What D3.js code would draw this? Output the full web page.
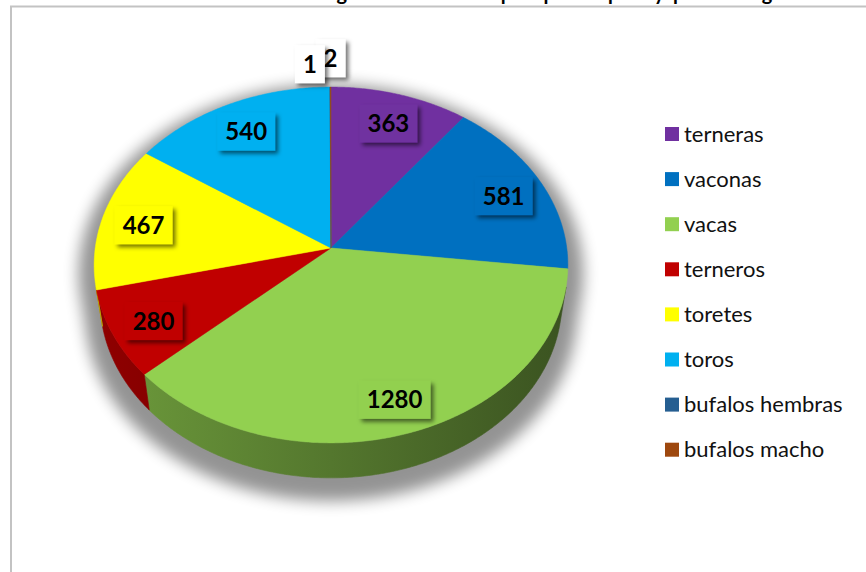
<!DOCTYPE html>
<html>
<head>
<meta charset="utf-8">
<script src="https://cdn.jsdelivr.net/npm/d3@7"></script>
<style>
  body { margin: 0; background: #ffffff; }
  svg { display: block; }
</style>
</head>
<body>
<svg id="chart" width="866" height="572"></svg>
<script>
// ---- data ----
const categories = ["terneras", "vaconas", "vacas", "terneros", "toretes", "toros", "bufalos hembras", "bufalos macho"];
const values = [363, 581, 1280, 280, 467, 540, 1, 2];
const colors = ["#7030a0", "#0070c0", "#92d050", "#c00000", "#ffff00", "#00b0f0", "#255e91", "#9e480e"];
const titleText = "Gráfico 1. Población de ganado bovino por parroquia y por categoría";

const W = 866, H = 572;
const svg = d3.select("#chart");
const defs = svg.append("defs");
const font = "Lato, 'Open Sans', sans-serif";

// ---- frame + title (title sits above the frame top) ----
svg.append("path")
  .attr("d", `M11,${H} V6.5 H${W}`)
  .attr("fill", "none").attr("stroke", "#c3c3c3").attr("stroke-width", 2);

svg.append("text")
  .attr("x", 447).attr("y", -0.5)
  .attr("text-anchor", "middle")
  .attr("font-family", font).attr("font-weight", 700).attr("font-size", 20)
  .attr("textLength", 735).attr("lengthAdjust", "spacing")
  .attr("fill", "#000")
  .text(titleText);

// ---- perspective view of a tilted disc ----
const cx = 331, cy = 248;          // screen position of the disc centre
const focal = 1641, dist = 6.96;   // camera focal length (px) and distance (radii)
const tilt = Math.asin(0.664);
const cosT = Math.cos(tilt), sinT = Math.sin(tilt);
const depth = 0.24;                // disc thickness in radii

function project(theta, k, z) {
  const x = k * Math.sin(theta), y = -k * Math.cos(theta);
  const Yc = y * cosT - z * sinT;
  const Zc = dist - y * sinT - z * cosT;
  return [cx + focal * x / Zc, cy + focal * Yc / Zc];
}
function arcPoints(a0, a1, k, z) {
  const n = Math.max(2, Math.ceil(Math.abs(a1 - a0) / (Math.PI / 360)));
  return d3.range(n + 1).map(i => project(a0 + (a1 - a0) * i / n, k, z));
}
const line = d3.line();

const pie = d3.pie().sort(null).value(d => d.value).startAngle(0).endAngle(2 * Math.PI);
const slices = pie(categories.map((c, i) => ({ name: c, value: values[i], color: colors[i] })));
const total = d3.sum(values);

// range of the outer wall that faces the camera
const wLim = Math.acos(-1 / (dist * sinT));
const wMin = wLim, wMax = 2 * Math.PI - wLim;

// ---- soft shadow under the pie ----
const blur = defs.append("filter").attr("id", "pieShadow")
  .attr("x", "-20%").attr("y", "-20%").attr("width", "140%").attr("height", "140%");
blur.append("feGaussianBlur").attr("stdDeviation", 7);

const topOutline = arcPoints(0, 2 * Math.PI, 1, 0);
const botOutline = arcPoints(0, 2 * Math.PI, 1, -depth);
const frontWall = arcPoints(wMin, wMax, 1, 0).concat(arcPoints(wMax, wMin, 1, -depth));
const shadowG = svg.append("g")
  .attr("filter", "url(#pieShadow)")
  .attr("transform", `translate(${cx},${cy + 42}) scale(1.065) translate(${-cx},${-(cy + 32)})`)
  .attr("opacity", 0.42);
[topOutline, botOutline, frontWall].forEach(p =>
  shadowG.append("path").attr("d", line(p) + "Z").attr("fill", "#000"));

// ---- side walls ----
const wallG = svg.append("g");
slices.forEach((s, i) => {
  const lo = Math.max(s.startAngle, wMin), hi = Math.min(s.endAngle, wMax);
  if (hi <= lo) return;
  const base = d3.color(s.data.color);
  const g = defs.append("linearGradient").attr("id", "side" + i)
    .attr("gradientUnits", "userSpaceOnUse")
    .attr("x1", cx - 240).attr("x2", cx + 240).attr("y1", 0).attr("y2", 0);
  g.append("stop").attr("offset", 0).attr("stop-color", base.darker(0.8).formatHex());
  g.append("stop").attr("offset", 1).attr("stop-color", base.darker(2.6).formatHex());
  const pts = arcPoints(lo, hi, 1, 0).concat(arcPoints(hi, lo, 1, -depth));
  wallG.append("path").attr("d", line(pts) + "Z")
    .attr("fill", `url(#side${i})`)
    .attr("stroke", `url(#side${i})`).attr("stroke-width", 0.6);
});

// ---- top face ----
const topG = svg.append("g");
slices.forEach(s => {
  const pts = [project(0, 0, 0)].concat(arcPoints(s.startAngle, s.endAngle, 1, 0));
  topG.append("path").attr("d", line(pts) + "Z")
    .attr("fill", s.data.color)
    .attr("stroke", s.data.color).attr("stroke-width", 0.5).attr("stroke-linejoin", "round");
});

// ---- data labels ----
const drop = defs.append("filter").attr("id", "labelShadow")
  .attr("x", "-30%").attr("y", "-30%").attr("width", "170%").attr("height", "170%");
drop.append("feDropShadow").attr("dx", 3).attr("dy", 3).attr("stdDeviation", 2.2)
  .attr("flood-color", "#000").attr("flood-opacity", 0.55);

const inside = slices.filter(s => s.value / total >= 0.02);
const outside = slices.filter(s => s.value / total < 0.02);

function placeLabel(s, pos, fill) {
  const g = svg.append("g").attr("transform", `translate(${pos[0]},${pos[1]})`);
  const rect = g.append("rect").attr("fill", fill).attr("filter", "url(#labelShadow)");
  const t = g.append("text")
    .attr("text-anchor", "middle").attr("dy", "0.36em")
    .attr("font-family", font).attr("font-weight", 700).attr("font-size", 24)
    .attr("fill", "#000").text(s.value);
  const w = t.node().getBBox().width + 16, h = 38;
  rect.attr("x", -w / 2).attr("y", -h / 2).attr("width", w).attr("height", h);
}

inside.forEach(s => {
  const p = project((s.startAngle + s.endAngle) / 2, 0.82, 0);
  placeLabel(s, [p[0], p[1] + 3], s.data.color);
});

// small slices: labels outside the rim, fanned so they do not cover each other
const nOut = outside.length;
outside.slice().reverse().forEach((s, r) => {
  const j = nOut - 1 - r;
  const p = project((s.startAngle + s.endAngle) / 2, 1.2, 0);
  const off = j - (nOut - 1);
  placeLabel(s, [p[0] + off * 20, p[1] - off * 6], "#ffffff");
});

// ---- legend ----
const legend = svg.append("g");
categories.forEach((c, i) => {
  const y = 134 + i * 45.1;
  legend.append("rect").attr("x", 665).attr("y", y - 7).attr("width", 14).attr("height", 14)
    .attr("fill", colors[i]);
  legend.append("text").attr("x", 684).attr("y", y).attr("dy", "0.35em")
    .attr("font-family", font).attr("font-size", 22).attr("fill", "#111")
    .text(c);
});
</script>
</body>
</html>
